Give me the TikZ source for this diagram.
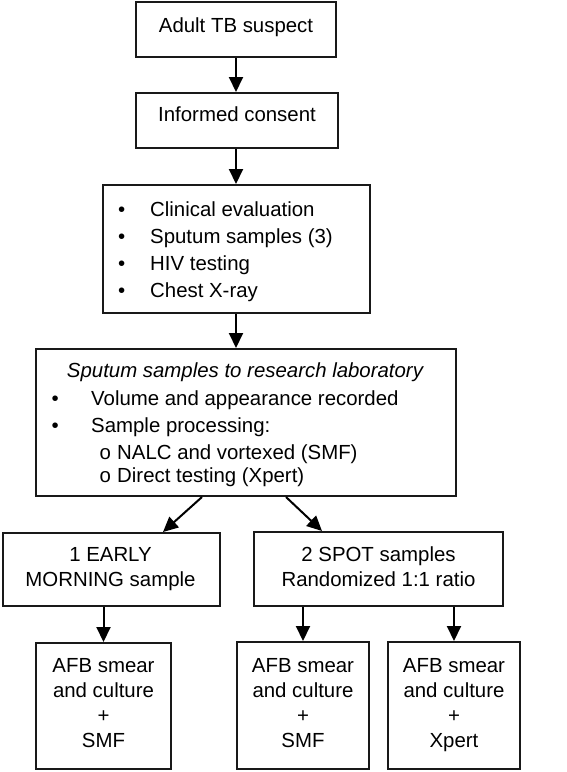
\documentclass[tikz,border=0pt]{standalone}
\usepackage{fontspec}
\setmainfont{Liberation Sans}
\usetikzlibrary{arrows.meta,calc}
\begin{document}
\begin{tikzpicture}[x=1pt,y=-1pt,
  box/.style={draw=black!90,line width=2pt,rectangle,inner sep=0pt},
  txt/.style={inner sep=0pt,anchor=base,font=\fontsize{20.4}{25}\selectfont},
  txtw/.style={inner sep=0pt,anchor=base west,font=\fontsize{20.4}{25}\selectfont},
  arr/.style={line width=2pt,draw=black,-{Triangle[width=14pt,length=15pt]}}]
\useasboundingbox (0,0) rectangle (566,772);
% boxes
\node[box,minimum width=200,minimum height=55] (b1) at (236,29.5) {};
\node[box,minimum width=202,minimum height=55] (b2) at (237,120.5) {};
\node[box,minimum width=267,minimum height=128] (b3) at (236.5,249) {};
\node[box,minimum width=420,minimum height=147] (b4) at (246,422.5) {};
\node[box,minimum width=217,minimum height=73] (b5) at (111.5,569.5) {};
\node[box,minimum width=249,minimum height=74] (b6) at (378.5,569) {};
\node[box,minimum width=135,minimum height=126] (b7) at (103.5,706) {};
\node[box,minimum width=132,minimum height=127] (b8) at (303,705.5) {};
\node[box,minimum width=132,minimum height=127] (b9) at (454,705.5) {};
% texts
\node[txt] (t1) at (236,32) {Adult TB suspect};
\node[txt] (t2) at (237,121) {Informed consent};
\node[txtw] (t3a) at (118,216.5) {•}; \node[txtw] (t3b) at (150,216.5) {Clinical evaluation};
\node[txtw] (t3c) at (118,243.5) {•}; \node[txtw] (t3d) at (150,243.5) {Sputum samples (3)};
\node[txtw] (t3e) at (118,270) {•}; \node[txtw] (t3f) at (150,270) {HIV testing};
\node[txtw] (t3g) at (118,297) {•}; \node[txtw] (t3h) at (150,297) {Chest X-ray};
\node[txt] (t4a) at (245,377) {\itshape Sputum samples to research laboratory};
\node[txtw] (t4b) at (51.5,405) {•}; \node[txtw] (t4c) at (91,405) {Volume and appearance recorded};
\node[txtw] (t4d) at (51.5,432) {•}; \node[txtw] (t4e) at (91,432) {Sample processing:};
\node[txtw] (t4f) at (99.5,459) {o}; \node[txtw] (t4g) at (117,459) {NALC and vortexed (SMF)};
\node[txtw] (t4h) at (99.5,482) {o}; \node[txtw] (t4i) at (117,482) {Direct testing (Xpert)};
\node[txt] (t5) at (110.5,561.5) {\begin{tabular}[t]{@{}c@{}}1 EARLY\\MORNING sample\end{tabular}};
\node[txt] (t6) at (378.5,561.5) {\begin{tabular}[t]{@{}c@{}}2 SPOT samples\\Randomized 1:1 ratio\end{tabular}};
\node[txt] (t7) at (103.5,672) {\begin{tabular}[t]{@{}c@{}}AFB smear\\and culture\\+\\SMF\end{tabular}};
\node[txt] (t8) at (303,672) {\begin{tabular}[t]{@{}c@{}}AFB smear\\and culture\\+\\SMF\end{tabular}};
\node[txt] (t9) at (454,672) {\begin{tabular}[t]{@{}c@{}}AFB smear\\and culture\\+\\Xpert\end{tabular}};
% arrows
\draw[arr] (b1.south) -- (b1.south |- b2.north);
\draw[arr] (b1.south |- b2.south) -- (b1.south |- b3.north);
\draw[arr] (b1.south |- b3.south) -- (b1.south |- b4.north);
\draw[arr] ([xshift=167pt]b4.south west) -- ([xshift=51.5pt]b5.north);
\draw[arr] ([xshift=251pt]b4.south west) -- ([xshift=-56.5pt]b6.north);
\draw[arr] (b7.north |- b5.south) -- (b7.north);
\draw[arr] (b8.north |- b6.south) -- (b8.north);
\draw[arr] (b9.north |- b6.south) -- (b9.north);
\end{tikzpicture}
\end{document}
